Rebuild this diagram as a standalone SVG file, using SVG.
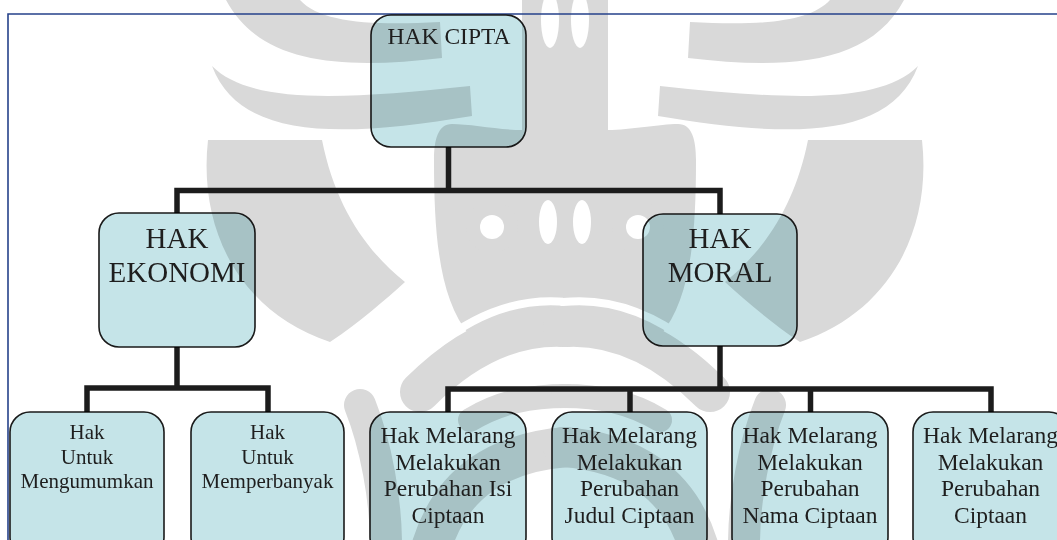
<svg xmlns="http://www.w3.org/2000/svg" xmlns:xlink="http://www.w3.org/1999/xlink" width="1057" height="540" viewBox="0 0 1057 540">
<style>
.box{fill:#c5e4e8;stroke:#1a1a1a;stroke-width:1.6;mix-blend-mode:multiply}
.t{font-family:"Liberation Serif","Times New Roman",serif;fill:#1e1e1e;text-anchor:middle}
.t1{font-size:23.5px}
.t2{font-size:29px}
.t3{font-size:21px}
.t4{font-size:23.5px}
.conn{fill:none;stroke:#1c1c1c;stroke-width:5.5;stroke-linejoin:miter}
.wm{fill:#d9d9d9}
.wb{fill:none;stroke:#d9d9d9;stroke-linecap:round}
.wmw{fill:none;stroke:#ffffff;stroke-width:8;stroke-linecap:round}
.wmh{fill:#ffffff}
</style>
<defs>
<g id="wmHalf">
<path class="wm" d="M226 0 L300 0 C320 22 370 26 440 22 L442 58 C340 70 260 64 226 0 Z"/>
<path class="wm" d="M212 66 C250 104 340 100 470 86 L472 116 C340 138 240 140 212 66 Z"/>
<path class="wm" d="M208 140 C198 230 240 312 330 342 C360 322 385 300 405 282 C365 250 335 205 322 140 Z"/>
<path class="wm" d="M452 124 C438 124 434 140 434 160 C434 240 440 300 470 336 L567 336 L567 0 L522 0 L522 130 C500 130 470 124 452 124 Z"/>
<circle class="wm" cx="492" cy="227" r="26"/>
<path class="wb" stroke-width="40" d="M420 392 Q490 322 567 327"/>
<path class="wb" stroke-width="32" d="M360 405 C376 445 386 500 386 545"/>
<path class="wb" stroke-width="40" d="M432 545 C452 482 500 452 567 447"/>
<path class="wb" stroke-width="24" d="M470 420 C500 402 530 396 567 396"/>
<path class="wmw" d="M437 345 Q500 295 567 302"/>
<circle class="wmh" cx="492" cy="227" r="12"/>
<ellipse class="wmh" cx="548" cy="222" rx="9" ry="22"/>
<ellipse class="wmh" cx="550" cy="20" rx="9" ry="28"/>
</g>
</defs>
<g id="watermark">
<use xlink:href="#wmHalf"/>
<use xlink:href="#wmHalf" transform="translate(1130,0) scale(-1,1)"/>
</g>
<g id="frame">
<path d="M8 540 V14 H1057" fill="none" stroke="#26428a" stroke-width="1.6"/>
</g>
<g id="connectors">
<path class="conn" d="M448.5 147 V190.5"/>
<path class="conn" d="M177 213 V190.5 H720 V214"/>
<path class="conn" d="M177 347 V388"/>
<path class="conn" d="M87 412 V388 H268 V412"/>
<path class="conn" d="M720 346 V389"/>
<path class="conn" d="M448 412 V389 H991 V412"/>
<path class="conn" d="M630 389 V412"/>
<path class="conn" d="M810.5 389 V412"/>
</g>
<g id="hak-cipta">
<rect class="box" x="371" y="15" width="155" height="132" rx="20"/>
<text class="t t1" x="449" y="44">HAK CIPTA</text>
</g>
<g id="hak-ekonomi">
<rect class="box" x="99" y="213" width="156" height="134" rx="20"/>
<text class="t t2" x="177" y="248">HAK</text>
<text class="t t2" x="177" y="282">EKONOMI</text>
</g>
<g id="hak-moral">
<rect class="box" x="643" y="214" width="154" height="132" rx="20"/>
<text class="t t2" x="720" y="248">HAK</text>
<text class="t t2" x="720" y="282">MORAL</text>
</g>
<g id="mengumumkan">
<rect class="box" x="10" y="412" width="154" height="145" rx="20"/>
<text class="t t3" x="87" y="439">Hak</text>
<text class="t t3" x="87" y="464">Untuk</text>
<text class="t t3" x="87" y="488">Mengumumkan</text>
</g>
<g id="memperbanyak">
<rect class="box" x="191" y="412" width="153" height="145" rx="20"/>
<text class="t t3" x="267.5" y="439">Hak</text>
<text class="t t3" x="267.5" y="464">Untuk</text>
<text class="t t3" x="267.5" y="488">Memperbanyak</text>
</g>
<g id="isi-ciptaan">
<rect class="box" x="370" y="412" width="156" height="145" rx="20"/>
<text class="t t4" x="448" y="443">Hak Melarang</text>
<text class="t t4" x="448" y="469.5">Melakukan</text>
<text class="t t4" x="448" y="496">Perubahan Isi</text>
<text class="t t4" x="448" y="522.5">Ciptaan</text>
</g>
<g id="judul-ciptaan">
<rect class="box" x="552" y="412" width="155" height="145" rx="20"/>
<text class="t t4" x="629.5" y="443">Hak Melarang</text>
<text class="t t4" x="629.5" y="469.5">Melakukan</text>
<text class="t t4" x="629.5" y="496">Perubahan</text>
<text class="t t4" x="629.5" y="522.5">Judul Ciptaan</text>
</g>
<g id="nama-ciptaan">
<rect class="box" x="732" y="412" width="156" height="145" rx="20"/>
<text class="t t4" x="810" y="443">Hak Melarang</text>
<text class="t t4" x="810" y="469.5">Melakukan</text>
<text class="t t4" x="810" y="496">Perubahan</text>
<text class="t t4" x="810" y="522.5">Nama Ciptaan</text>
</g>
<g id="ciptaan">
<rect class="box" x="913" y="412" width="156" height="145" rx="20"/>
<text class="t t4" x="990.5" y="443">Hak Melarang</text>
<text class="t t4" x="990.5" y="469.5">Melakukan</text>
<text class="t t4" x="990.5" y="496">Perubahan</text>
<text class="t t4" x="990.5" y="522.5">Ciptaan</text>
</g>
</svg>
